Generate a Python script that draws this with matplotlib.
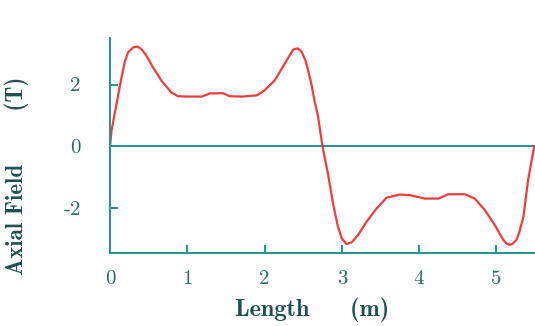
import matplotlib
matplotlib.use("Agg")
import matplotlib.pyplot as plt

# axial field profile
length_m = [0.0, 0.02, 0.065, 0.103, 0.147, 0.19, 0.233, 0.30, 0.353, 0.405,
            0.47, 0.555, 0.664, 0.79, 0.88, 1.01, 1.19, 1.29, 1.46, 1.55,
            1.72, 1.90, 2.0, 2.13, 2.22, 2.31, 2.37, 2.43, 2.48, 2.53,
            2.56, 2.61, 2.65, 2.69, 2.75, 2.82, 2.89, 2.95, 3.0, 3.06,
            3.13, 3.21, 3.32, 3.45, 3.58, 3.75, 3.88, 3.99, 4.07, 4.25,
            4.38, 4.59, 4.72, 4.85, 4.98, 5.09, 5.13, 5.17, 5.21, 5.26,
            5.30, 5.35, 5.41, 5.49]
field_t = [0.0, 0.5, 1.12, 1.62, 2.2, 2.72, 3.04, 3.2, 3.23, 3.15,
           2.94, 2.56, 2.13, 1.75, 1.62, 1.61, 1.61, 1.71, 1.72, 1.62,
           1.61, 1.65, 1.81, 2.13, 2.5, 2.88, 3.13, 3.17, 3.06, 2.77,
           2.5, 1.97, 1.43, 1.0, 0.0, -0.88, -1.9, -2.6, -2.98, -3.16,
           -3.1, -2.87, -2.44, -2.01, -1.66, -1.56, -1.58, -1.64, -1.69, -1.69,
           -1.55, -1.55, -1.69, -2.06, -2.55, -3.03, -3.14, -3.19, -3.15, -3.03,
           -2.75, -2.28, -1.1, 0.0]

x_ticks = [0, 1, 2, 3, 4, 5]
x_tick_labels = ["0", "1", "2", "3", "4", "5"]
y_ticks = [-2, 0, 2]
y_tick_labels = ["-2", "0", "2"]

teal = "#1e9494"
text_teal = "#2a6b6b"
label_col = "#1f4f4f"
red = "#f23c3c"

plt.rcParams["axes.unicode_minus"] = False

fig = plt.figure(figsize=(5.35, 3.26), dpi=100)
ax = fig.add_axes([0.2056, 0.224, 0.7944, 0.659])

ax.axhline(0, color=teal, lw=1.4, zorder=1)
ax.plot(length_m, field_t, color=red, lw=1.6, solid_joinstyle="round", zorder=2)

ax.set_xlim(0, 5.5)
ax.set_ylim(-3.45, 3.5)

for side in ["top", "right"]:
    ax.spines[side].set_visible(False)
for side in ["left", "bottom"]:
    ax.spines[side].set_color(teal)
    ax.spines[side].set_linewidth(1.4)

ax.set_xticks(x_ticks)
ax.set_xticklabels(x_tick_labels, family="cmr10", fontsize=15, color=text_teal)
ax.set_yticks(y_ticks)
ax.set_yticklabels(y_tick_labels, family="cmr10", fontsize=15, color=text_teal)
ax.tick_params(axis="x", direction="in", length=6, width=1.4, color=teal, pad=12)
ax.tick_params(axis="y", direction="in", length=6, width=1.4, color=teal, pad=21)

ax.set_xlabel("Length     (m)", family="cmb10", fontsize=17.5, color=label_col)
ax.set_ylabel("Axial Field       (T)", family="cmb10", fontsize=16.5, color=label_col)
ax.xaxis.set_label_coords(0.476, -0.205)
ax.yaxis.set_label_coords(-0.19, 0.36)

fig.savefig("out.png", dpi=100)
